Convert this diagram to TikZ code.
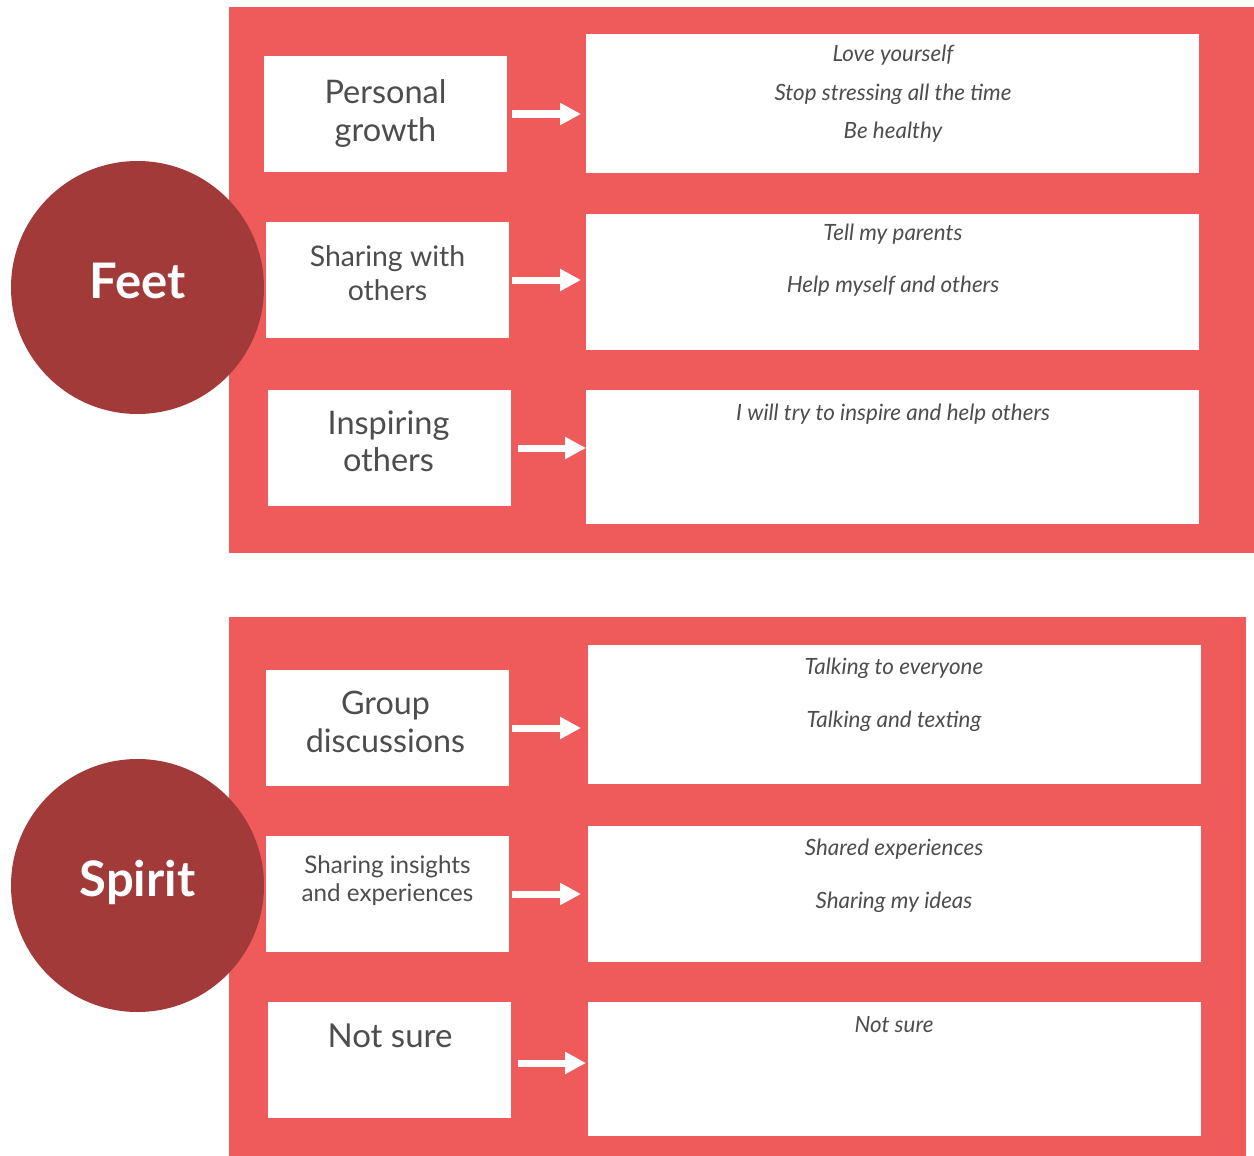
\documentclass[tikz,border=0pt]{standalone}
\usepackage{fontspec}
\setmainfont{Lato}
\usetikzlibrary{arrows.meta}
\definecolor{panelred}{RGB}{239,90,90}
\definecolor{circlered}{RGB}{162,58,58}
\definecolor{inkgray}{RGB}{77,77,77}
\tikzset{
  panel/.style={fill=panelred, draw=none},
  hub/.style={circle, fill=circlered, draw=none, minimum size=253pt, inner sep=0pt},
  hubtext/.style={text=white, font=\fontsize{49}{58}\selectfont\bfseries, anchor=base},
  topicbox/.style={fill=white, draw=none, anchor=north west, inner sep=0pt, outer sep=0pt, minimum width=243pt, minimum height=116pt},
  notebox/.style={fill=white, draw=none, anchor=north west, inner sep=0pt, outer sep=0pt, minimum width=613pt},
  topic/.style={text=inkgray, anchor=base, inner sep=0pt},
  note/.style={text=inkgray, anchor=base, inner sep=0pt, font=\fontsize{22.4}{26}\selectfont\itshape},
  flow/.style={draw=white, line width=7pt, -{Triangle[length=21pt,width=21pt]}}
}
\begin{document}
\begin{tikzpicture}[x=1pt, y=-1pt]
\useasboundingbox (0,0) rectangle (1254,1156);

% red backing panels
\fill[panel] (229,7) rectangle (1254,553);
\fill[panel] (229,617) rectangle (1246,1156);

% hub circles
\node[hub] (feet) at (137.5,287.5) {};
\node[hubtext] (feetlabel) at (137.5,298) {Feet};
\node[hub] (spirit) at (137.5,885.5) {};
\node[hubtext] (spiritlabel) at (137.5,896) {Spirit};

% ---- Feet ----
\node[topicbox] (l1) at (264,56) {};
\node[topicbox] (l2) at (266,222) {};
\node[topicbox] (l3) at (268,390) {};
\node[notebox, minimum height=139pt] (r1) at (586,34) {};
\node[notebox, minimum height=136pt] (r2) at (586,214) {};
\node[notebox, minimum height=134pt] (r3) at (586,390) {};

\node[topic, font=\fontsize{32.5}{38}\selectfont] (t1a) at (385.5,103.5) {Personal};
\node[topic, font=\fontsize{32.5}{38}\selectfont] (t1b) at (385.5,142) {growth};
\node[topic, font=\fontsize{28.4}{34}\selectfont] (t2a) at (387.5,266.7) {Sharing with};
\node[topic, font=\fontsize{28.4}{34}\selectfont] (t2b) at (387.5,300) {others};
\node[topic, font=\fontsize{32.5}{38}\selectfont] (t3a) at (388.5,434.7) {Inspiring};
\node[topic, font=\fontsize{32.5}{38}\selectfont] (t3b) at (388.5,471.3) {others};

\node[note] (n1a) at (893,61.7) {Love yourself};
\node[note] (n1b) at (893,100) {Stop stressing all the time};
\node[note] (n1c) at (893,138.3) {Be healthy};
\node[note] (n2a) at (893,240.7) {Tell my parents};
\node[note] (n2b) at (893,292.7) {Help myself and others};
\node[note] (n3a) at (893,420) {I will try to inspire and help others};

\draw[flow, shorten <=5pt, shorten >=5pt] (l1.east) -- (l1.east -| r1.west);
\draw[flow, shorten <=3pt, shorten >=5pt] (l2.east) -- (l2.east -| r2.west);
\draw[flow, shorten <=7pt] (l3.east) -- (l3.east -| r3.west);

% ---- Spirit ----
\node[topicbox] (l4) at (266,670) {};
\node[topicbox] (l5) at (266,836) {};
\node[topicbox] (l6) at (268,1002) {};
\node[notebox, minimum height=139pt] (r4) at (588,645) {};
\node[notebox, minimum height=136pt] (r5) at (588,826) {};
\node[notebox, minimum height=134pt] (r6) at (588,1002) {};

\node[topic, font=\fontsize{32.3}{38}\selectfont] (t4a) at (385.5,714.7) {Group};
\node[topic, font=\fontsize{32.3}{38}\selectfont] (t4b) at (385.5,752.3) {discussions};
\node[topic, font=\fontsize{24.2}{29}\selectfont] (t5a) at (387.5,873) {Sharing insights};
\node[topic, font=\fontsize{24.2}{29}\selectfont] (t5b) at (387.5,901.7) {and experiences};
\node[topic, font=\fontsize{33}{39}\selectfont] (t6a) at (390,1047.7) {Not sure};

\node[note] (n4a) at (894,674.3) {Talking to everyone};
\node[note] (n4b) at (894,727.7) {Talking and texting};
\node[note] (n5a) at (894,855) {Shared experiences};
\node[note] (n5b) at (894,908) {Sharing my ideas};
\node[note] (n6a) at (894,1032) {Not sure};

\draw[flow, shorten <=3pt, shorten >=7pt] (l4.east) -- (l4.east -| r4.west);
\draw[flow, shorten <=3pt, shorten >=7pt] (l5.east) -- (l5.east -| r5.west);
\draw[flow, shorten <=7pt, shorten >=2pt] ([yshift=-3pt]l6.east) -- ([yshift=-3pt]l6.east -| r6.west);
\end{tikzpicture}
\end{document}
